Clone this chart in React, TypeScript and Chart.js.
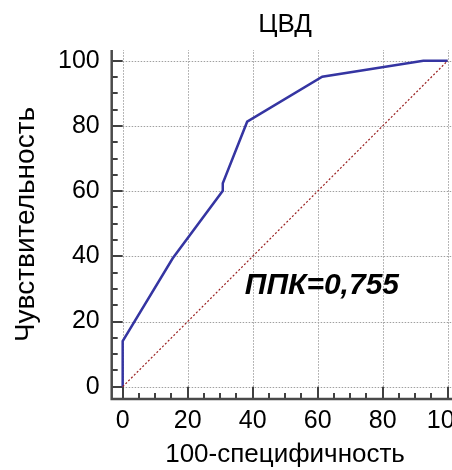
import React, { useEffect, useRef } from "react";
import { Chart, registerables } from "chart.js";

Chart.register(...registerables);

// ROC curve data
const falsePositive = [0, 0, 15.4, 30.8, 30.8, 38.3, 61.4, 92.5, 100];
const sensitivity = [0, 14, 39.4, 60.1, 62.4, 81.3, 95.1, 100, 100];
const diagonalX = [0, 100];
const diagonalY = [0, 100];
const tickValues = [0, 20, 40, 60, 80, 100];
const minorTickValues = [5, 10, 15, 25, 30, 35, 45, 50, 55, 65, 70, 75, 85, 90, 95];

const chartTitle = "ЦВД";
const xTitle = "100-специфичность";
const yTitle = "Чувствительность";
const aucLabel = "ППК=0,755";
const aucPos = { x: 61.3, y: 30.9 };

const FONT = "'Liberation Sans', Arial, sans-serif";

const rocPlugin = {
  id: "rocAxes",
  beforeDatasetsDraw(chart: any) {
    const { ctx, chartArea: a, scales } = chart;
    const x = scales.x;
    const y = scales.y;
    const x0 = x.getPixelForValue(0);
    const y0 = y.getPixelForValue(0);
    ctx.save();
    // dotted grid
    ctx.strokeStyle = "#a0a0a0";
    ctx.lineWidth = 1;
    ctx.setLineDash([1.5, 1.5]);
    for (const v of tickValues) {
      const px = Math.round(x.getPixelForValue(v)) + 0.5;
      ctx.beginPath();
      ctx.moveTo(px, y0);
      ctx.lineTo(px, a.top);
      ctx.stroke();
      const py = Math.round(y.getPixelForValue(v)) + 0.5;
      ctx.beginPath();
      ctx.moveTo(x0, py);
      ctx.lineTo(a.right, py);
      ctx.stroke();
    }
    ctx.setLineDash([]);
    // ticks (inward)
    ctx.strokeStyle = "#404040";
    ctx.lineWidth = 2;
    for (const v of minorTickValues) {
      const px = Math.round(x.getPixelForValue(v));
      ctx.beginPath();
      ctx.moveTo(px, a.bottom);
      ctx.lineTo(px, a.bottom - 6);
      ctx.stroke();
      const py = Math.round(y.getPixelForValue(v));
      ctx.beginPath();
      ctx.moveTo(a.left, py);
      ctx.lineTo(a.left + 6, py);
      ctx.stroke();
    }
    for (const v of tickValues) {
      const px = Math.round(x.getPixelForValue(v));
      ctx.beginPath();
      ctx.moveTo(px, a.bottom);
      ctx.lineTo(px, y0);
      ctx.stroke();
      const py = Math.round(y.getPixelForValue(v));
      ctx.beginPath();
      ctx.moveTo(a.left, py);
      ctx.lineTo(x0, py);
      ctx.stroke();
    }
    // axis lines
    ctx.strokeStyle = "#4a4a4a";
    ctx.lineWidth = 2.5;
    ctx.beginPath();
    ctx.moveTo(a.left, a.top);
    ctx.lineTo(a.left, a.bottom);
    ctx.lineTo(a.right + 30, a.bottom);
    ctx.stroke();
    ctx.restore();
  },
  afterDraw(chart: any) {
    const { ctx, chartArea: a, scales } = chart;
    ctx.save();
    ctx.fillStyle = "#000";
    ctx.textAlign = "center";
    ctx.textBaseline = "middle";
    ctx.font = `bold italic 30px ${FONT}`;
    ctx.fillText(aucLabel, scales.x.getPixelForValue(aucPos.x), scales.y.getPixelForValue(aucPos.y));
    ctx.font = `26px ${FONT}`;
    ctx.fillText(chartTitle, (a.left + a.right) / 2, 25);
    ctx.restore();
  },
};

export default function App() {
  const ref = useRef<HTMLCanvasElement | null>(null);
  useEffect(() => {
    if (!ref.current) return;
    document.body.style.margin = "0";
    document.body.style.overflow = "hidden";
    const chart = new Chart(ref.current, {
      type: "scatter",
      data: {
        datasets: [
          {
            data: diagonalX.map((v, i) => ({ x: v, y: diagonalY[i] })),
            showLine: true,
            borderColor: "#9a2020",
            borderWidth: 1.2,
            borderDash: [2, 2],
            pointRadius: 0,
          },
          {
            data: falsePositive.map((v, i) => ({ x: v, y: sensitivity[i] })),
            showLine: true,
            borderColor: "#3535a2",
            borderWidth: 2.5,
            pointRadius: 0,
          },
        ],
      },
      options: {
        animation: false,
        responsive: false,
        devicePixelRatio: 1,
        layout: { padding: { top: 50, right: 21.6, left: 0, bottom: 0 } },
        plugins: { legend: { display: false }, tooltip: { enabled: false }, title: { display: false } },
        scales: {
          x: {
            type: "linear",
            min: -3.38,
            max: 103.3,
            grid: { display: false, drawTicks: false },
            border: { display: false },
            afterBuildTicks: (s: any) => {
              s.ticks = tickValues.map((v) => ({ value: v }));
            },
            afterFit: (s: any) => {
              s.height = 71;
            },
            ticks: { color: "#000", padding: 7, maxRotation: 0, font: { family: FONT, size: 25 } },
            title: {
              display: true,
              text: xTitle,
              color: "#000",
              padding: { top: 0, bottom: 0 },
              font: { family: FONT, size: 26 },
            },
          },
          y: {
            type: "linear",
            min: -3.77,
            max: 103.3,
            grid: { display: false, drawTicks: false },
            border: { display: false },
            afterBuildTicks: (s: any) => {
              s.ticks = tickValues.map((v) => ({ value: v }));
            },
            afterFit: (s: any) => {
              s.width = 111.7;
            },
            ticks: { color: "#000", padding: 12, font: { family: FONT, size: 25 } },
            title: {
              display: true,
              text: yTitle,
              color: "#000",
              padding: { top: 9, bottom: 0 },
              font: { family: FONT, size: 28 },
            },
          },
        },
      },
      plugins: [rocPlugin],
    });
    return () => chart.destroy();
  }, []);
  return (
    <div style={{ position: "fixed", left: 0, top: 0, width: 452, height: 470, overflow: "hidden", background: "#fff" }}>
      <canvas ref={ref} width={480} height={470} style={{ width: 480, height: 470, display: "block" }} />
    </div>
  );
}
